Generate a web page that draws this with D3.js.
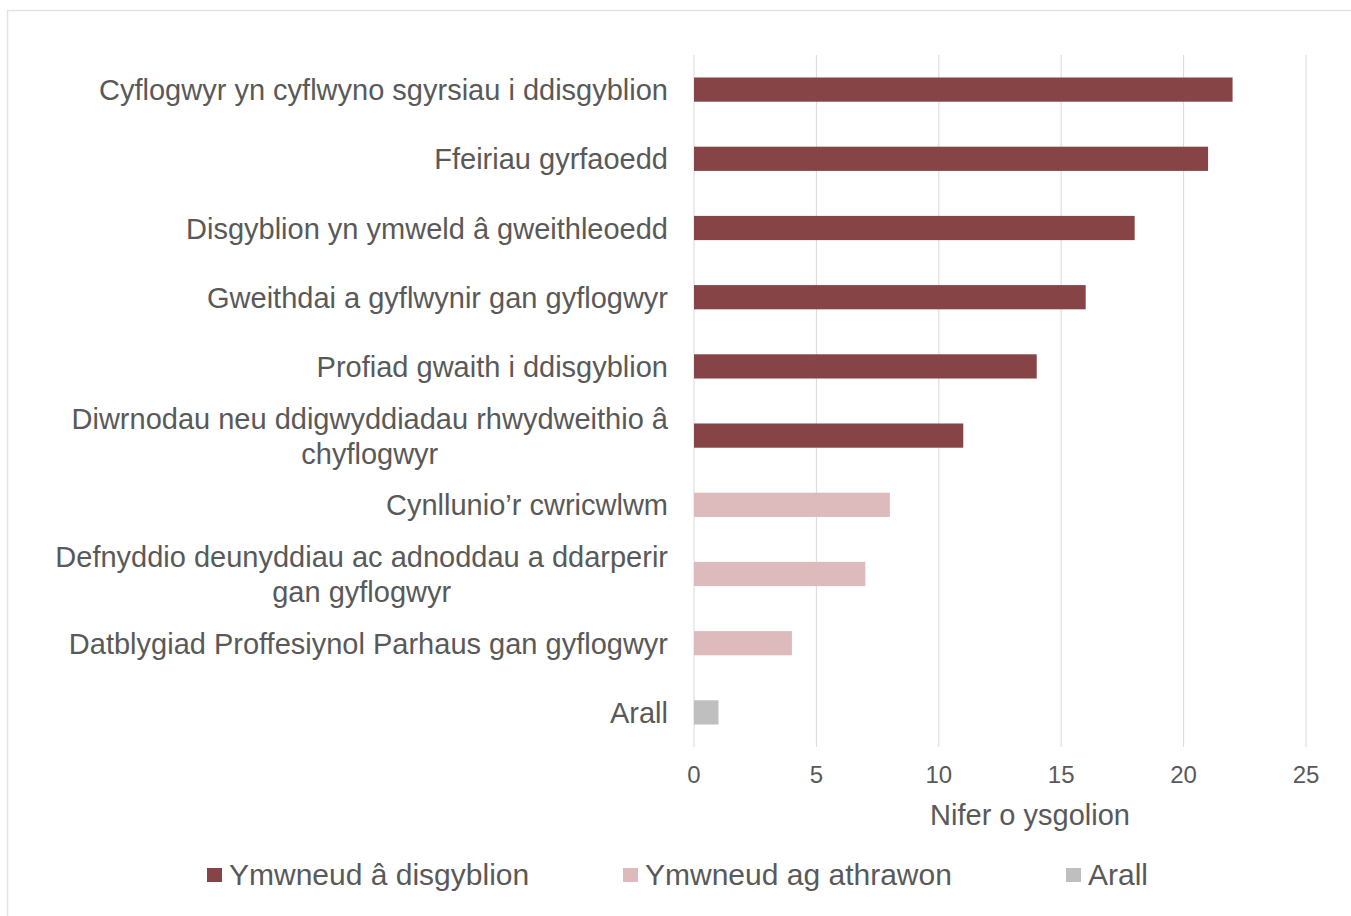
<!DOCTYPE html>
<html>
<head>
<meta charset="utf-8">
<script src="https://cdn.jsdelivr.net/npm/d3@7"></script>
<style>
  body { margin: 0; background: #fff; }
  text { font-family: "Liberation Sans", Arial, sans-serif; fill: #595959; }
</style>
</head>
<body>
<div id="chart"></div>
<script>
// category labels (top to bottom), lines split where the original wraps
const categories = [
  ["Cyflogwyr yn cyflwyno sgyrsiau i ddisgyblion"],
  ["Ffeiriau gyrfaoedd"],
  ["Disgyblion yn ymweld â gweithleoedd"],
  ["Gweithdai a gyflwynir gan gyflogwyr"],
  ["Profiad gwaith i ddisgyblion"],
  ["Diwrnodau neu ddigwyddiadau rhwydweithio â", "chyflogwyr"],
  ["Cynllunio’r cwricwlwm"],
  ["Defnyddio deunyddiau ac adnoddau a ddarperir", "gan gyflogwyr"],
  ["Datblygiad Proffesiynol Parhaus gan gyflogwyr"],
  ["Arall"]
];
const values = [22, 21, 18, 16, 14, 11, 8, 7, 4, 1];
const groups = [0, 0, 0, 0, 0, 0, 1, 1, 1, 2];
const seriesNames = ["Ymwneud â disgyblion", "Ymwneud ag athrawon", "Arall"];
const seriesColors = ["#874446", "#ddbabc", "#bfbfbf"];
const xTicks = [0, 5, 10, 15, 20, 25];
const xTitle = "Nifer o ysgolion";

const W = 1351, H = 916;
const svg = d3.select("#chart").append("svg").attr("width", W).attr("height", H);

// outer frame
svg.append("rect")
  .attr("x", 7.5).attr("y", 10.5)
  .attr("width", W + 20).attr("height", H + 20)
  .attr("fill", "none").attr("stroke", "#e3e3e3").attr("stroke-width", 1.5);

const plotLeft = 694, plotRight = 1306, plotTop = 55, plotBottom = 747;

const x = d3.scaleLinear().domain([0, 25]).range([plotLeft, plotRight]);
const y = d3.scaleBand().domain(d3.range(categories.length)).range([plotTop, plotBottom]).paddingInner(0.65).paddingOuter(0.325);

// gridlines
svg.append("g").selectAll("line")
  .data(xTicks)
  .enter().append("line")
  .attr("x1", d => x(d)).attr("x2", d => x(d))
  .attr("y1", plotTop).attr("y2", plotBottom)
  .attr("stroke", "#d9d9d9").attr("stroke-width", 1);

// bars
svg.append("g").selectAll("rect")
  .data(values)
  .enter().append("rect")
  .attr("x", x(0))
  .attr("y", (d, i) => y(i))
  .attr("width", d => x(d) - x(0))
  .attr("height", y.bandwidth())
  .attr("fill", (d, i) => seriesColors[groups[i]]);

// category labels
const labels = svg.append("g").selectAll("g")
  .data(categories)
  .enter().append("g")
  .attr("transform", (d, i) => `translate(668, ${y(i) + y.bandwidth() / 2})`);

labels.each(function(lines) {
  const g = d3.select(this);
  const lh = 35;
  const t = g.append("text")
    .attr("font-size", "29px")
    .attr("text-anchor", "end");
  lines.forEach((ln, k) => {
    t.append("tspan")
      .attr("x", 0)
      .attr("y", (k - (lines.length - 1) / 2) * lh + 10.5)
      .text(ln);
  });
  // center multi-line labels within their block, right aligned overall
  if (lines.length > 1) {
    const spans = t.selectAll("tspan").nodes();
    const widths = spans.map(s => s.getComputedTextLength());
    const maxW = d3.max(widths);
    spans.forEach((s, k) => {
      d3.select(s).attr("x", -(maxW - widths[k]) / 2);
    });
  }
});

// x axis tick labels
svg.append("g").selectAll("text")
  .data(xTicks)
  .enter().append("text")
  .attr("x", d => x(d))
  .attr("y", 783)
  .attr("text-anchor", "middle")
  .attr("font-size", "24px")
  .text(d => d);

// axis title
svg.append("text")
  .attr("x", 1030)
  .attr("y", 825)
  .attr("text-anchor", "middle")
  .attr("font-size", "29px")
  .text(xTitle);

// legend
const legendX = [207, 623, 1066];
const legend = svg.append("g").selectAll("g")
  .data(seriesNames)
  .enter().append("g")
  .attr("transform", (d, i) => `translate(${legendX[i]}, 875)`);

legend.append("rect")
  .attr("x", 0).attr("y", -7)
  .attr("width", 15).attr("height", 14)
  .attr("fill", (d, i) => seriesColors[i]);

legend.append("text")
  .attr("x", 22).attr("y", 10)
  .attr("font-size", "30px")
  .text(d => d);
</script>
</body>
</html>
